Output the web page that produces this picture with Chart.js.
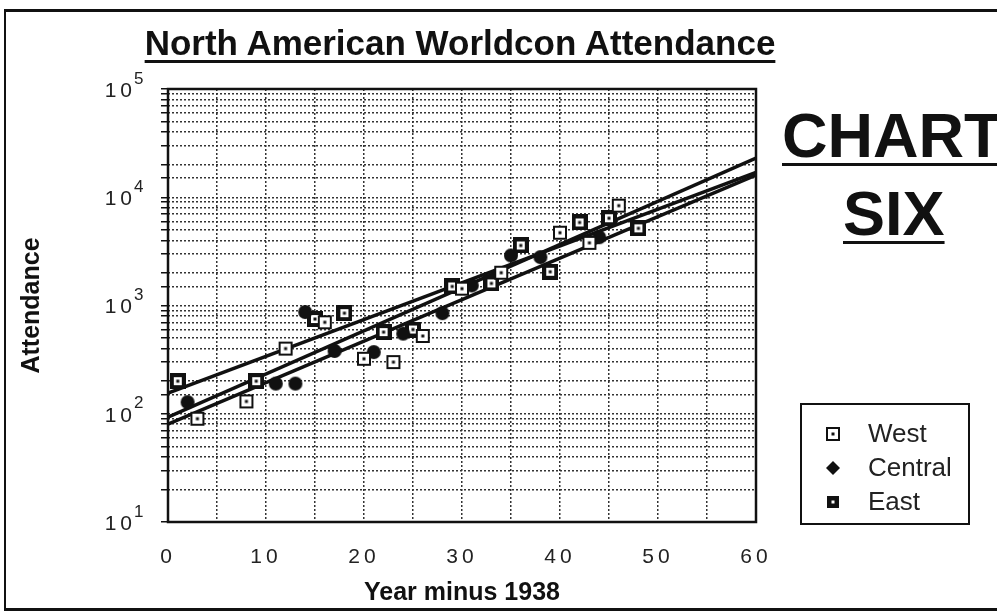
<!DOCTYPE html>
<html>
<head>
<meta charset="utf-8">
<script src="https://cdn.jsdelivr.net/npm/chart.js@4.4.1/dist/chart.umd.min.js"></script>
<style>
  body { margin: 0; background: #fff; font-family: "Liberation Sans", Arial, sans-serif; color: #111; }
  #wrap { position: relative; width: 997px; height: 614px; overflow: hidden; }
  #frame { position: absolute; left: 4px; top: 9px; width: 1000px; height: 596px;
           border-top: 3px solid #111; border-left: 2px solid #111; border-bottom: 3px solid #111; }
  #title { position: absolute; left: 0; width: 920px; top: 25px; text-align: center;
           font-weight: bold; font-size: 35px; line-height: 1;
           text-decoration: underline; text-decoration-thickness: 3px; text-underline-offset: 5px; }
  .big { position: absolute; font-weight: bold; font-size: 63px; line-height: 1;
         text-decoration: underline; text-decoration-thickness: 3px; text-underline-offset: 6px; }
  #chartTxt { left: 782px; top: 104px; }
  #sixTxt { left: 843px; top: 182px; }
  #legend { position: absolute; left: 800px; top: 403px; width: 166px; height: 118px; border: 2px solid #111; }
  .item { position: absolute; left: 0; height: 30px; font-size: 26px; line-height: 30px; }
  .item canvas { position: absolute; left: 23px; top: 8px; }
  .item span { position: absolute; left: 66px; top: 0; white-space: nowrap; color: #222; }
  canvas#c { position: absolute; left: 0; top: 0; }
</style>
</head>
<body>
<div id="wrap">
  <canvas id="c" width="997" height="614"></canvas>
  <div id="frame"></div>
  <div id="title">North American Worldcon Attendance</div>
  <div class="big" id="chartTxt">CHART</div>
  <div class="big" id="sixTxt">SIX</div>
  <div id="legend"></div>
</div>
<script>
// Werte (x = Jahr minus 1938)
const westX = [3, 8, 12, 16, 20, 23, 26, 30, 34, 40, 43, 46];
const westY = [90, 130, 400, 700, 322, 300, 523, 1430, 2007, 4700, 3792, 8365];

const centralX = [2, 11, 13, 14, 17, 21, 24, 28, 31, 35, 38, 44];
const centralY = [128, 190, 190, 870, 380, 371, 550, 850, 1534, 2900, 2800, 4275];

const eastX = [1, 9, 15, 18, 22, 25, 29, 33, 36, 39, 42, 45, 48];
const eastY = [200, 200, 750, 850, 568, 600, 1500, 1600, 3587, 2050, 5850, 6400, 5162];

// Trendlinien (Anfang und Ende)
const fitX = [0, 60];
const fitA = [155, 17000];
const fitB = [93, 23000];
const fitC = [80, 16000];

const powers = [1, 2, 3, 4, 5];
const legendNames = ['West', 'Central', 'East'];

// Marker als kleine Canvas-Bilder
function makeMarker(kind, legend) {
  const c = document.createElement('canvas');
  c.width = 16; c.height = 16;
  const g = c.getContext('2d');
  g.fillStyle = '#111';
  if (kind === 'Central') {
    if (legend) {
      g.beginPath(); g.moveTo(8, 1); g.lineTo(15, 8); g.lineTo(8, 15); g.lineTo(1, 8); g.closePath(); g.fill();
    } else {
      g.beginPath(); g.arc(8, 8, 7, 0, Math.PI * 2); g.fill();
    }
  } else if (kind === 'West') {
    g.fillRect(1, 1, 14, 14);
    g.fillStyle = '#fff'; g.fillRect(3, 3, 10, 10);
    g.fillStyle = '#111'; g.fillRect(6.5, 6.5, 3, 3);
  } else {
    if (legend) {
      g.fillRect(2, 2, 12, 12);
      g.fillStyle = '#fff'; g.fillRect(6.5, 6.5, 3, 3);
    } else {
      g.fillRect(0, 0, 16, 16);
      g.fillStyle = '#fff'; g.fillRect(4, 4, 8, 8);
      g.fillStyle = '#111'; g.fillRect(6.5, 6.5, 3, 3);
    }
  }
  return c;
}

const westImg = makeMarker('West');
const centralImg = makeMarker('Central');
const eastImg = makeMarker('East');

// Legende
const legendBox = document.getElementById('legend');
legendNames.forEach((name, i) => {
  const row = document.createElement('div');
  row.className = 'item';
  row.style.top = (13 + i * 34) + 'px';
  row.appendChild(makeMarker(name, true));
  const s = document.createElement('span');
  s.textContent = name;
  row.appendChild(s);
  legendBox.appendChild(row);
});

const toPts = (xs, ys) => xs.map((x, i) => ({x: x, y: ys[i]}));

function fitLine(vals) {
  return {
    type: 'line', data: toPts(fitX, vals), borderColor: '#111', borderWidth: 3.5,
    pointRadius: 0, showLine: true, fill: false, order: 5
  };
}

const extras = {
  id: 'extras',
  afterDatasetsDraw(chart) {
    chart.ctx.letterSpacing = '4px';
  },
  afterDraw(chart) {
    const {ctx, chartArea: a, scales: {y}} = chart;
    ctx.letterSpacing = '0px';
    ctx.save();
    ctx.lineWidth = 2.5;
    ctx.strokeStyle = '#111';
    ctx.strokeRect(a.left, a.top, a.right - a.left, a.bottom - a.top);
    // Exponenten der Zehnerpotenzen
    ctx.font = '17px "Liberation Sans", Arial, sans-serif';
    ctx.fillStyle = '#222';
    ctx.textAlign = 'left';
    ctx.textBaseline = 'middle';
    powers.forEach(p => {
      const py = y.getPixelForValue(Math.pow(10, p));
      ctx.fillText(String(p), 134, py - 10);
    });
    ctx.restore();
  }
};

const tickFont = {family: '"Liberation Sans", Arial, sans-serif', size: 21};
const titleFont = {family: '"Liberation Sans", Arial, sans-serif', size: 25, weight: 'bold'};

new Chart(document.getElementById('c'), {
  type: 'scatter',
  data: {
    datasets: [
      {label: 'West', data: toPts(westX, westY), pointStyle: westImg, pointRadius: 8, order: 1},
      {label: 'Central', data: toPts(centralX, centralY), pointStyle: centralImg, pointRadius: 8, order: 1},
      {label: 'East', data: toPts(eastX, eastY), pointStyle: eastImg, pointRadius: 8, order: 1},
      fitLine(fitA),
      fitLine(fitB),
      fitLine(fitC)
    ]
  },
  options: {
    responsive: false,
    animation: false,
    devicePixelRatio: 1,
    layout: {padding: {left: 0, right: 241, top: 89, bottom: 0}},
    plugins: {legend: {display: false}, tooltip: {enabled: false}},
    scales: {
      x: {
        type: 'linear', min: 0, max: 60,
        afterFit: s => { s.height = 92; },
        ticks: {
          stepSize: 5, autoSkip: false, maxRotation: 0, z: 1,
          callback: v => (v % 10 === 0 ? String(v) : ''),
          font: tickFont, color: '#222', padding: 23
        },
        grid: {drawTicks: false, color: '#333', lineWidth: 1.5},
        border: {display: false, dash: [2, 2]},
        title: {display: true, text: 'Year minus 1938', color: '#111', font: titleFont, padding: {top: 0, bottom: 6}}
      },
      y: {
        type: 'logarithmic', min: 10, max: 100000,
        afterFit: s => { s.width = 168; },
        ticks: {
          autoSkip: false, z: 1, labelOffset: 2,
          callback: v => (Number.isInteger(Math.log10(v)) ? '10' : ''),
          font: tickFont, color: '#222', padding: 25
        },
        grid: {drawTicks: true, tickLength: 7, tickColor: '#111', tickWidth: 1.5, color: '#333', lineWidth: 1.5},
        border: {display: false, dash: [2, 2]},
        title: {display: true, text: 'Attendance', color: '#111', font: titleFont, padding: {top: 17}}
      }
    }
  },
  plugins: [extras]
});
</script>
</body>
</html>
